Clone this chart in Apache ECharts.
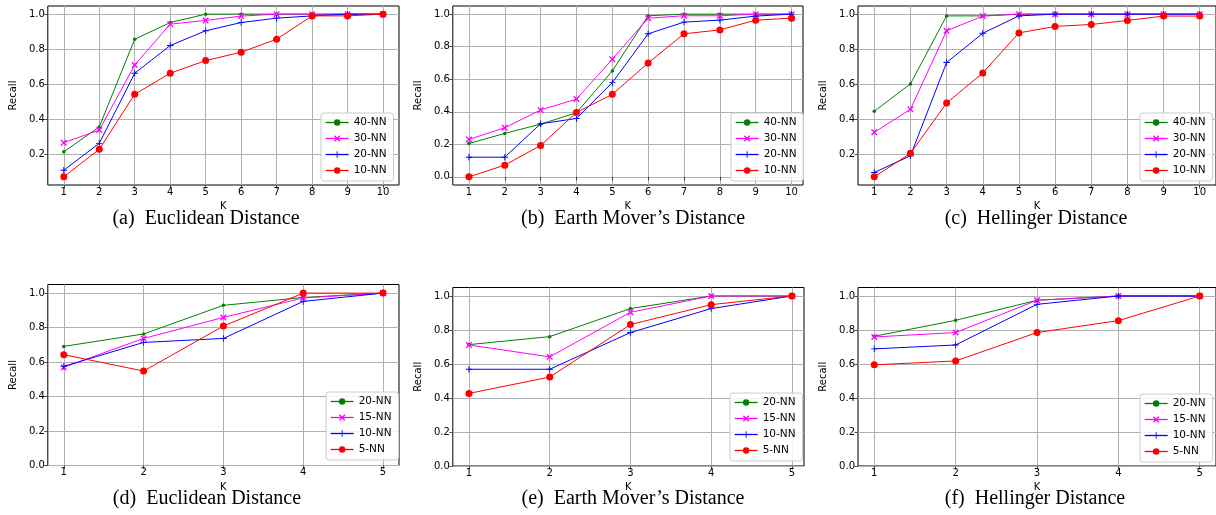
<!DOCTYPE html>
<html>
<head>
<meta charset="utf-8">
<script src="https://cdn.jsdelivr.net/npm/echarts@6/dist/echarts.min.js"></script>
<style>
body { margin: 0; background: #fff; }
#page { position: relative; width: 1216px; height: 515px; overflow: hidden; }
.panel { position: absolute; }
</style>
</head>
<body>
<div id="page">
	<div id="pa" class="panel" style="left:0px;top:0px;width:405px;height:235px;"></div>
	<div id="pb" class="panel" style="left:405px;top:0px;width:405px;height:235px;"></div>
	<div id="pc" class="panel" style="left:810px;top:0px;width:406px;height:235px;"></div>
	<div id="pd" class="panel" style="left:0px;top:280px;width:405px;height:235px;"></div>
	<div id="pe" class="panel" style="left:405px;top:280px;width:405px;height:235px;"></div>
	<div id="pf" class="panel" style="left:810px;top:280px;width:406px;height:235px;"></div>
</div>
<script>
// K values and tick labels
var kTop = [1, 2, 3, 4, 5, 6, 7, 8, 9, 10];
var kBottom = [1, 2, 3, 4, 5];
var yTicksTop = [0.2, 0.4, 0.6, 0.8, 1.0];
var yTicksFull = [0.0, 0.2, 0.4, 0.6, 0.8, 1.0];
var namesTop = ['40-NN', '30-NN', '20-NN', '10-NN'];
var namesBottom = ['20-NN', '15-NN', '10-NN', '5-NN'];

// (a) Euclidean Distance
var eucTop40 = [0.215, 0.357, 0.857, 0.952, 1, 1, 1, 1, 1, 1];
var eucTop30 = [0.267, 0.339, 0.710, 0.943, 0.964, 0.989, 1, 1, 1, 1];
var eucTop20 = [0.110, 0.263, 0.663, 0.821, 0.905, 0.952, 0.977, 0.990, 1, 1];
var eucTop10 = [0.072, 0.229, 0.543, 0.663, 0.735, 0.783, 0.857, 0.990, 0.990, 1];
// (b) Earth Mover's Distance
var emdTop40 = [0.205, 0.267, 0.324, 0.394, 0.651, 0.990, 1, 1, 1, 1];
var emdTop30 = [0.230, 0.302, 0.411, 0.478, 0.723, 0.975, 0.990, 0.990, 1, 1];
var emdTop20 = [0.121, 0.121, 0.326, 0.359, 0.579, 0.879, 0.951, 0.963, 0.988, 1];
var emdTop10 = [0.0, 0.072, 0.193, 0.396, 0.507, 0.700, 0.879, 0.903, 0.963, 0.975];
// (c) Hellinger Distance
var helTop40 = [0.446, 0.602, 0.990, 0.990, 1, 1, 1, 1, 1, 1];
var helTop30 = [0.326, 0.457, 0.905, 0.989, 1, 1, 1, 1, 1, 1];
var helTop20 = [0.097, 0.192, 0.724, 0.891, 0.990, 1, 1, 1, 1, 1];
var helTop10 = [0.072, 0.206, 0.493, 0.665, 0.893, 0.930, 0.941, 0.964, 0.989, 0.989];
// (d) Euclidean Distance
var eucBot20 = [0.691, 0.763, 0.929, 0.975, 1];
var eucBot15 = [0.570, 0.737, 0.859, 0.972, 1];
var eucBot10 = [0.575, 0.714, 0.737, 0.952, 1];
var eucBot5 = [0.643, 0.548, 0.809, 1, 1];
// (e) Earth Mover's Distance
var emdBot20 = [0.714, 0.761, 0.926, 1, 1];
var emdBot15 = [0.712, 0.642, 0.904, 1, 1];
var emdBot10 = [0.569, 0.569, 0.785, 0.926, 1];
var emdBot5 = [0.427, 0.523, 0.832, 0.949, 1];
// (f) Hellinger Distance
var helBot20 = [0.763, 0.857, 0.975, 1, 1];
var helBot15 = [0.759, 0.785, 0.975, 1, 1];
var helBot10 = [0.689, 0.712, 0.951, 1, 1];
var helBot5 = [0.595, 0.618, 0.785, 0.855, 1];

var tickFont = 'DejaVu Sans';
var crossPath = 'path://M0,1.5 L1.5,0 L5,3.5 L8.5,0 L10,1.5 L6.5,5 L10,8.5 L8.5,10 L5,6.5 L1.5,10 L0,8.5 L3.5,5 Z';
var plusPath = 'path://M4.3,0 H5.7 V4.3 H10 V5.7 H5.7 V10 H4.3 V5.7 H0 V4.3 H4.3 Z';
// green dot, magenta x, blue +, red circle
var marks = [
	{ color: '#008000', symbol: 'circle', size: 3.5 },
	{ color: '#ff00ff', symbol: crossPath, size: 6.5 },
	{ color: '#0000ff', symbol: plusPath, size: 6.5 },
	{ color: '#ff0000', symbol: 'circle', size: 7 }
];

function autoRange(lines, lo, hi) {
	// matplotlib style 5% margin
	var all = [].concat.apply([], lines);
	var mn = Math.min.apply(null, all), mx = Math.max.apply(null, all);
	var pad = (mx - mn) * 0.05;
	return [lo != null ? lo : mn - pad, hi != null ? hi : mx + pad];
}

function drawPanel(id, p) {
	var chart = echarts.init(document.getElementById(id));
	var xr = autoRange([p.k], null, p.xHi);
	var yr = autoRange(p.lines, p.yLo, p.yHi);
	var series = p.lines.map(function (vals, i) {
		return {
			name: p.names[i],
			type: 'line',
			data: p.k.map(function (k, j) { return [k, vals[j]]; }),
			symbol: marks[i].symbol,
			symbolSize: marks[i].size,
			lineStyle: { color: marks[i].color, width: 1 },
			itemStyle: { color: marks[i].color },
			emphasis: { disabled: true },
			z: 3 + i
		};
	});
	chart.setOption({
		animation: false,
		grid: {
			left: p.grid[0], top: p.grid[1], width: p.grid[2], height: p.grid[3],
			show: true, borderColor: '#000', borderWidth: 1, backgroundColor: 'transparent'
		},
		xAxis: {
			type: 'value',
			min: xr[0],
			max: xr[1],
			name: 'K',
			nameLocation: 'middle',
			nameGap: 9,
			nameTextStyle: { fontFamily: tickFont, fontSize: 10, color: '#000' },
			axisLine: { show: false },
			axisTick: { show: true, length: 3.5, lineStyle: { color: '#222', width: 0.8 }, customValues: p.k },
			axisLabel: { customValues: p.k, fontFamily: tickFont, fontSize: 10, color: '#000', margin: 2,
				formatter: function (v) { return String(Math.round(v)); } },
			splitLine: { show: true, lineStyle: { color: '#b0b0b0', width: 1 } }
		},
		yAxis: {
			type: 'value',
			min: yr[0],
			max: yr[1],
			name: 'Recall',
			nameLocation: 'middle',
			nameGap: 20,
			nameTextStyle: { fontFamily: tickFont, fontSize: 10, color: '#000' },
			axisLine: { show: false },
			axisTick: { show: true, length: 3.5, lineStyle: { color: '#222', width: 0.8 }, customValues: p.yTicks },
			axisLabel: { customValues: p.yTicks, fontFamily: tickFont, fontSize: 10, color: '#000', margin: 3,
				formatter: function (v) { return v.toFixed(1); } },
			splitLine: { show: true, lineStyle: { color: '#b0b0b0', width: 1 } }
		},
		legend: {
			orient: 'vertical',
			left: p.legend[0], top: p.legend[1],
			data: p.names,
			selectedMode: false,
			itemWidth: 23, itemHeight: 8, itemGap: 5,
			lineStyle: { width: 1.3 },
			itemStyle: { borderWidth: 0 },
			textStyle: { fontFamily: tickFont, fontSize: 10.5, color: '#000' },
			backgroundColor: 'rgba(255,255,255,0.85)',
			borderColor: '#cccccc', borderWidth: 1, borderRadius: 3,
			padding: [4, 7, 5, 4]
		},
		graphic: [{
			type: 'text',
			x: p.caption[1], y: p.caption[2],
			style: { text: p.caption[0], font: '20px "Liberation Serif"', fill: '#000', align: 'center', verticalAlign: 'middle' }
		}],
		series: series
	});
}

drawPanel('pa', { k: kTop, names: namesTop, lines: [eucTop40, eucTop30, eucTop20, eucTop10], yTicks: yTicksTop,
	grid: [39, 6, 360, 179], legend: [321, 113], caption: ['(a)  Euclidean Distance', 206, 219] });
drawPanel('pb', { k: kTop, names: namesTop, lines: [emdTop40, emdTop30, emdTop20, emdTop10], yTicks: yTicksFull,
	xHi: 10.32, grid: [43, 6, 355, 179], legend: [326, 113], caption: ['(b)  Earth Mover\u2019s Distance', 228, 219] });
drawPanel('pc', { k: kTop, names: namesTop, lines: [helTop40, helTop30, helTop20, helTop10], yTicks: yTicksTop,
	grid: [48, 6, 360, 179], legend: [330, 113], caption: ['(c)  Hellinger Distance', 226, 219] });
drawPanel('pd', { k: kBottom, names: namesBottom, lines: [eucBot20, eucBot15, eucBot10, eucBot5], yTicks: yTicksFull,
	yLo: 0, yHi: 1.05, grid: [39, 4.5, 360, 181], legend: [326, 112], caption: ['(d)  Euclidean Distance', 207, 219] });
drawPanel('pe', { k: kBottom, names: namesBottom, lines: [emdBot20, emdBot15, emdBot10, emdBot5], yTicks: yTicksFull,
	xHi: 5.15, yLo: 0, yHi: 1.05, grid: [43, 7.5, 356, 178.5], legend: [325, 113], caption: ['(e)  Earth Mover\u2019s Distance', 228, 219] });
drawPanel('pf', { k: kBottom, names: namesBottom, lines: [helBot20, helBot15, helBot10, helBot5], yTicks: yTicksFull,
	yLo: 0, yHi: 1.05, grid: [48, 7.5, 360, 178.5], legend: [330, 114], caption: ['(f)  Hellinger Distance', 225, 219] });
</script>
</body>
</html>
